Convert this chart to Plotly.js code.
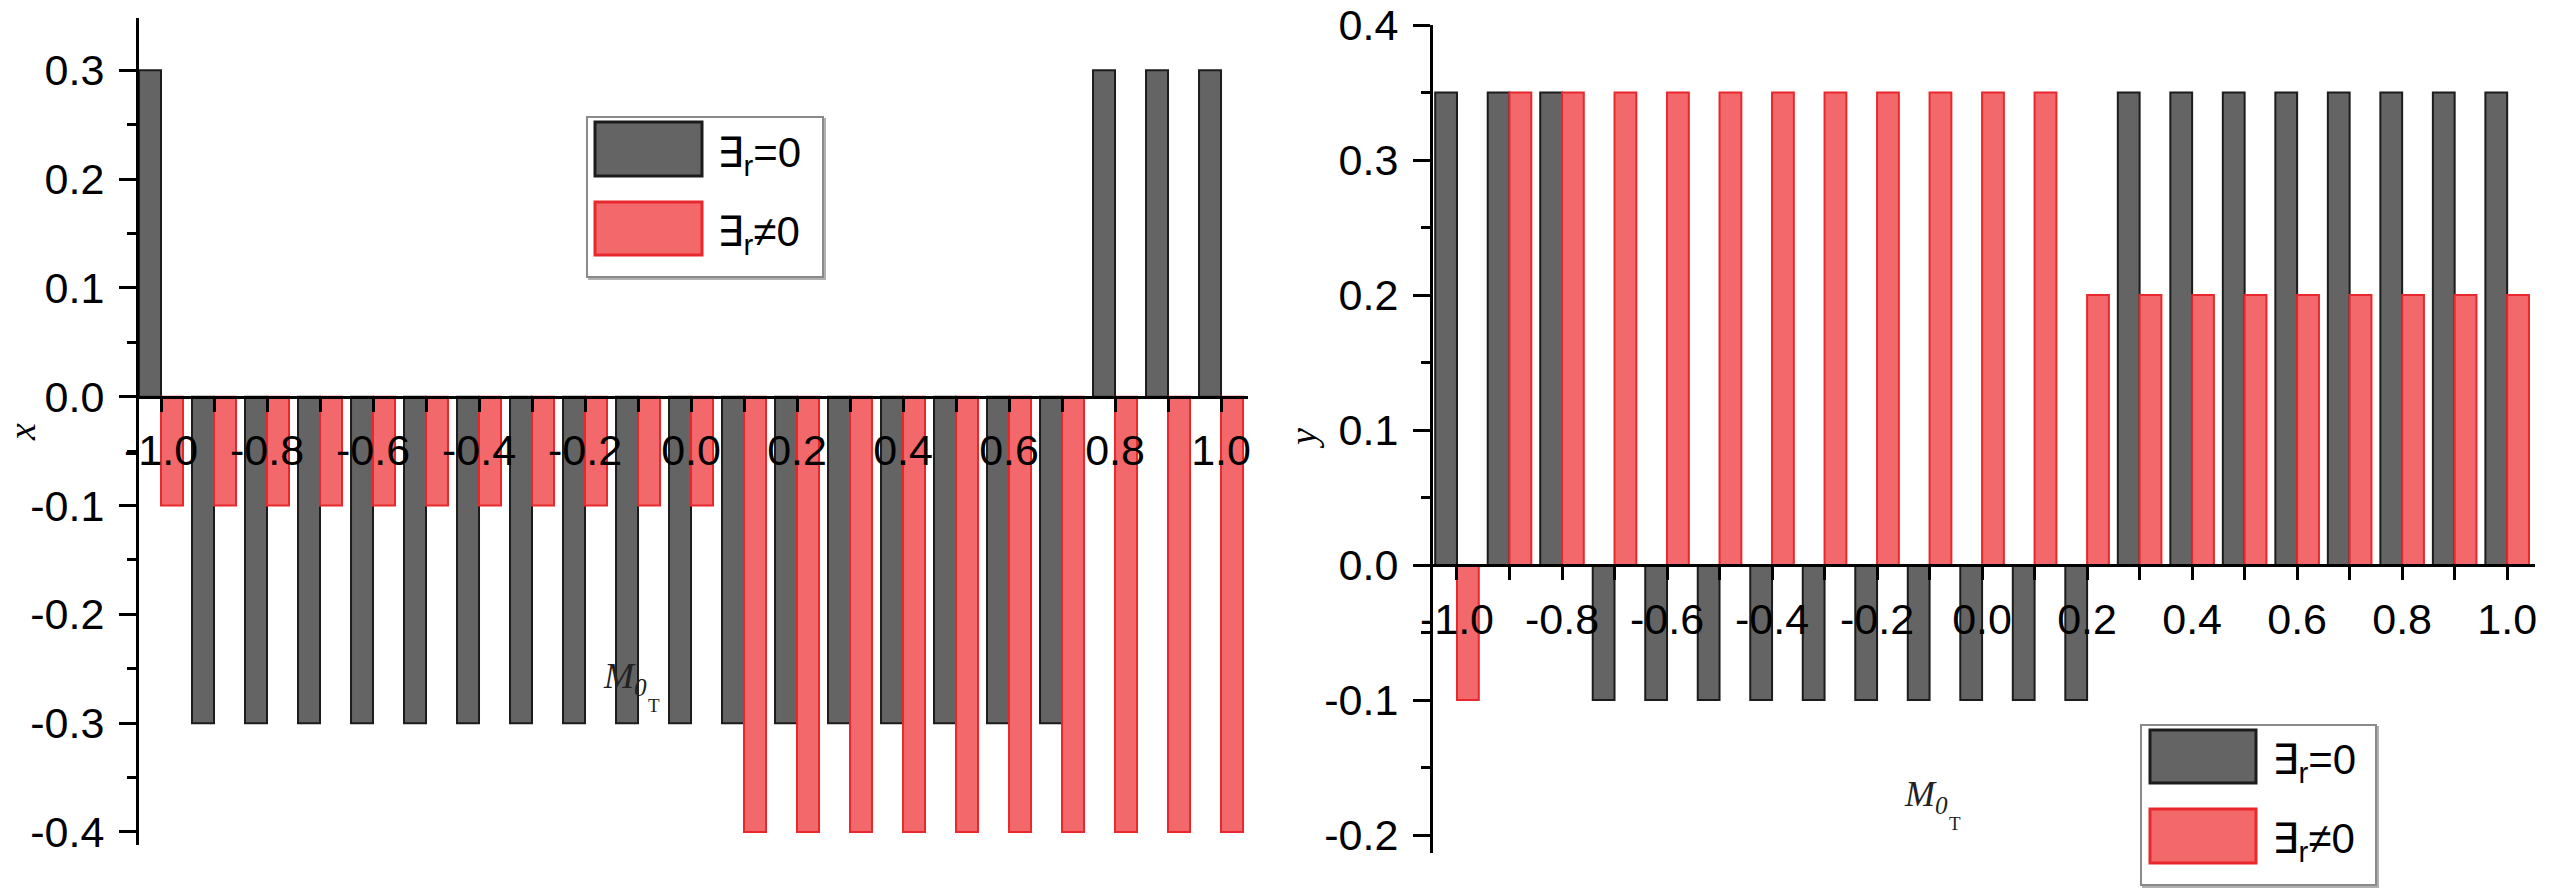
<!DOCTYPE html>
<html>
<head>
<meta charset="utf-8">
<script src="https://cdn.plot.ly/plotly-3.0.1.min.js"></script>
<style>html,body{margin:0;padding:0;background:#fff;}#chart{width:2549px;height:893px;}</style>
</head>
<body>
<div id="chart"></div>
<script>
// ---------- data ----------
const categories = [-1.0, -0.9, -0.8, -0.7, -0.6, -0.5, -0.4, -0.3, -0.2, -0.1, 0.0, 0.1, 0.2, 0.3, 0.4, 0.5, 0.6, 0.7, 0.8, 0.9, 1.0];
const seriesNames = ['\u2203<sub>r</sub>=0', '\u2203<sub>r</sub>\u22600'];

// left panel (x)
const xZero    = [0.3, -0.3, -0.3, -0.3, -0.3, -0.3, -0.3, -0.3, -0.3, -0.3, -0.3, -0.3, -0.3, -0.3, -0.3, -0.3, -0.3, -0.3, 0.3, 0.3, 0.3];
const xNonZero = [-0.1, -0.1, -0.1, -0.1, -0.1, -0.1, -0.1, -0.1, -0.1, -0.1, -0.1, -0.4, -0.4, -0.4, -0.4, -0.4, -0.4, -0.4, -0.4, -0.4, -0.4];
// right panel (y)
const yZero    = [0.35, 0.35, 0.35, -0.1, -0.1, -0.1, -0.1, -0.1, -0.1, -0.1, -0.1, -0.1, -0.1, 0.35, 0.35, 0.35, 0.35, 0.35, 0.35, 0.35, 0.35];
const yNonZero = [-0.1, 0.35, 0.35, 0.35, 0.35, 0.35, 0.35, 0.35, 0.35, 0.35, 0.35, 0.35, 0.2, 0.2, 0.2, 0.2, 0.2, 0.2, 0.2, 0.2, 0.2];

// tick labels
const xTickVals = [-1.0, -0.8, -0.6, -0.4, -0.2, 0.0, 0.2, 0.4, 0.6, 0.8, 1.0];
const xTickText = ['-1.0', '-0.8', '-0.6', '-0.4', '-0.2', '0.0', '0.2', '0.4', '0.6', '0.8', '1.0'];
const leftYTickVals = [-0.4, -0.3, -0.2, -0.1, 0.0, 0.1, 0.2, 0.3];
const leftYTickText = ['-0.4', '-0.3', '-0.2', '-0.1', '0.0', '0.1', '0.2', '0.3'];
const rightYTickVals = [-0.2, -0.1, 0.0, 0.1, 0.2, 0.3, 0.4];
const rightYTickText = ['-0.2', '-0.1', '0.0', '0.1', '0.2', '0.3', '0.4'];
const leftYTitle = 'x';
const rightYTitle = 'y';
const xTitleMain = 'M';
const xTitleSub = '0';
const xTitleSubSub = 'T';

// ---------- layout helpers ----------
const W = 2549, H = 893;
const fx = p => p / W;
const fy = p => 1 - p / H;

const GRAY = '#646464', GRAY_LINE = '#1c1c1c';
const RED = '#f2686b', RED_LINE = '#e8282c';
const TICKFONT = {family: 'Liberation Sans, Arial, sans-serif', size: 43, color: '#000'};

const L = {xd: [137, 1248], yd: [18, 845], xr: [-1.0453, 1.0509], yr: [-0.412, 0.348]};
const R = {xd: [1431, 2535], yd: [25, 853], xr: [-1.0495, 1.053], yr: [-0.2133, 0.4]};

function zeroPos(P) {
  const bottom = fy(P.yd[1]), top = fy(P.yd[0]);
  return bottom + (0 - P.yr[0]) / (P.yr[1] - P.yr[0]) * (top - bottom);
}

function xAxis(P) {
  return {
    domain: [fx(P.xd[0]), fx(P.xd[1])], range: P.xr, anchor: 'free', position: zeroPos(P),
    showline: true, linecolor: '#000', linewidth: 3, ticks: 'outside', ticklen: 13, tickwidth: 3, tickcolor: '#000',
    tickvals: xTickVals, ticktext: xTickText, tickfont: TICKFONT, ticklabelstandoff: 2,
    minor: {tickvals: categories, ticks: 'outside', ticklen: 13, tickwidth: 3, tickcolor: '#000'},
    showgrid: false, zeroline: false, fixedrange: true
  };
}
function yAxis(P, vals, text) {
  return {
    domain: [fy(P.yd[1]), fy(P.yd[0])], range: P.yr, anchor: 'free', position: fx(P.xd[0]),
    showline: true, linecolor: '#000', linewidth: 3, ticks: 'outside', ticklen: 17, tickwidth: 3, tickcolor: '#000',
    tickvals: vals, ticktext: text, tickfont: TICKFONT, ticklabelstandoff: 6,
    minor: {dtick: 0.05, tick0: 0, ticks: 'outside', ticklen: 9, tickwidth: 3, tickcolor: '#000'},
    showgrid: false, zeroline: false, fixedrange: true
  };
}

function bar(x, y, name, fill, line, xa, ya) {
  return {type: 'bar', x: x, y: y, name: name, xaxis: xa, yaxis: ya,
    marker: {color: fill, line: {color: line, width: 2}}, showlegend: false};
}

const traces = [
  bar(categories, xZero, seriesNames[0], GRAY, GRAY_LINE, 'x', 'y'),
  bar(categories, xNonZero, seriesNames[1], RED, RED_LINE, 'x', 'y'),
  bar(categories, yZero, seriesNames[0], GRAY, GRAY_LINE, 'x2', 'y2'),
  bar(categories, yNonZero, seriesNames[1], RED, RED_LINE, 'x2', 'y2')
];

// manual legends (large swatches as in the reference)
function legendShapes(bx0, by0, bx1, by1, sx0, sx1, s1y0, s1y1, s2y0, s2y1) {
  return [
    {type: 'rect', xref: 'paper', yref: 'paper', x0: fx(bx0 + 2), x1: fx(bx1 + 2), y0: fy(by1 + 2), y1: fy(by0 + 2),
      line: {color: '#b0b0b0', width: 2}, fillcolor: '#d8d8d8', layer: 'above'},
    {type: 'rect', xref: 'paper', yref: 'paper', x0: fx(bx0), x1: fx(bx1), y0: fy(by1), y1: fy(by0),
      line: {color: '#8a8a8a', width: 2}, fillcolor: '#ffffff', layer: 'above'},
    {type: 'rect', xref: 'paper', yref: 'paper', x0: fx(sx0), x1: fx(sx1), y0: fy(s1y1), y1: fy(s1y0),
      line: {color: GRAY_LINE, width: 3}, fillcolor: GRAY, layer: 'above'},
    {type: 'rect', xref: 'paper', yref: 'paper', x0: fx(sx0), x1: fx(sx1), y0: fy(s2y1), y1: fy(s2y0),
      line: {color: RED_LINE, width: 3}, fillcolor: RED, layer: 'above'}
  ];
}
const LEGFONT = {family: 'Liberation Sans, DejaVu Sans, sans-serif', size: 42, color: '#000'};
function legendText(tx, ty1, ty2) {
  return [
    {xref: 'paper', yref: 'paper', x: fx(tx), y: fy(ty1), xanchor: 'left', yanchor: 'middle', text: seriesNames[0], showarrow: false, font: LEGFONT},
    {xref: 'paper', yref: 'paper', x: fx(tx), y: fy(ty2), xanchor: 'left', yanchor: 'middle', text: seriesNames[1], showarrow: false, font: LEGFONT}
  ];
}
const SERIF = 'Liberation Serif, Times New Roman, serif';
// M with subscript 0, and a second-level subscript T placed after it
function mLabel(x, y) {
  return [
    {xref: 'paper', yref: 'paper', x: fx(x), y: fy(y), xanchor: 'left', yanchor: 'middle',
      text: '<i>' + xTitleMain + '<sub>' + xTitleSub + '</sub></i>', showarrow: false,
      font: {family: SERIF, size: 36, color: '#222'}},
    {xref: 'paper', yref: 'paper', x: fx(x + 45), y: fy(y + 27), xanchor: 'left', yanchor: 'middle',
      text: xTitleSubSub, showarrow: false, font: {family: SERIF, size: 19, color: '#222'}}
  ];
}

const layout = {
  width: W, height: H, margin: {l: 0, r: 0, t: 0, b: 0},
  paper_bgcolor: '#fff', plot_bgcolor: 'rgba(0,0,0,0)', showlegend: false,
  barmode: 'group', bargap: 0.17, bargroupgap: 0,
  xaxis: xAxis(L), yaxis: yAxis(L, leftYTickVals, leftYTickText),
  xaxis2: xAxis(R), yaxis2: yAxis(R, rightYTickVals, rightYTickText),
  shapes: [].concat(
    legendShapes(587, 117, 823, 277, 595, 702, 122, 176, 202, 255),
    legendShapes(2141, 725, 2376, 885, 2150, 2256, 730, 783, 809, 863)
  ),
  annotations: [].concat(
    legendText(715, 155, 234),
    legendText(2270, 762, 841),
    mLabel(601, 678),
    mLabel(1902, 796),
    [
      {xref: 'paper', yref: 'paper', x: fx(22), y: fy(432), xanchor: 'center', yanchor: 'middle', textangle: -90,
        text: '<i>' + leftYTitle + '</i>', showarrow: false, font: {family: SERIF, size: 38, color: '#000'}},
      {xref: 'paper', yref: 'paper', x: fx(1303), y: fy(439), xanchor: 'center', yanchor: 'middle', textangle: -90,
        text: '<i>' + rightYTitle + '</i>', showarrow: false, font: {family: SERIF, size: 38, color: '#000'}}
    ]
  )
};

Plotly.newPlot('chart', traces, layout, {displayModeBar: false, staticPlot: true});
</script>
</body>
</html>
